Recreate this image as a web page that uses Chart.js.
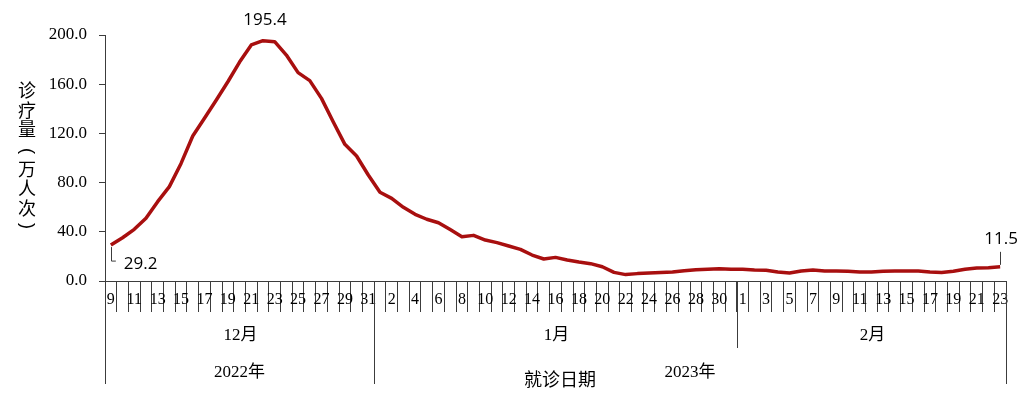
<!DOCTYPE html>
<html>
<head>
<meta charset="utf-8">
<script src="https://cdn.jsdelivr.net/npm/chart.js@4.4.1/dist/chart.umd.min.js"></script>
<style>
  html, body { margin: 0; padding: 0; background: #fff; }
  #chart { display: block; }
</style>
</head>
<body>
<canvas id="chart" width="1024" height="401"></canvas>
<script>
// 就诊日期 (日)
const decDays = [9, 10, 11, 12, 13, 14, 15, 16, 17, 18, 19, 20, 21, 22, 23, 24, 25, 26, 27, 28, 29, 30, 31];
const janDays = [1, 2, 3, 4, 5, 6, 7, 8, 9, 10, 11, 12, 13, 14, 15, 16, 17, 18, 19, 20, 21, 22, 23, 24, 25, 26, 27, 28, 29, 30, 31];
const febDays = [1, 2, 3, 4, 5, 6, 7, 8, 9, 10, 11, 12, 13, 14, 15, 16, 17, 18, 19, 20, 21, 22, 23];

// 诊疗量（万人次）
const decValues = [29.2, 35.2, 42.0, 51.0, 64.5, 76.7, 95.6, 117.9, 132.3, 147.0, 162.0, 178.0, 191.9, 195.4, 194.6, 183.7, 169.4, 162.9, 148.5, 129.5, 111.1, 101.6, 86.2];
const janValues = [72.1, 67.2, 59.9, 54.2, 50.2, 47.4, 41.8, 36.0, 37.1, 33.3, 31.2, 28.5, 25.7, 21.1, 17.9, 19.2, 17.1, 15.4, 14.1, 11.6, 7.0, 5.2, 6.0, 6.5, 7.0, 7.3, 8.4, 9.2, 9.5, 10.0, 9.5];
const febValues = [9.5, 8.9, 8.7, 7.3, 6.5, 8.1, 8.9, 8.1, 8.1, 7.9, 7.3, 7.3, 7.9, 8.1, 8.1, 8.1, 7.3, 7.0, 7.9, 9.5, 10.6, 10.8, 11.5];

const monthNames = ['12月', '1月', '2月'];
const yearNames = ['2022年', '2023年'];
const yTicks = [0, 40, 80, 120, 160, 200];
const yTitle = '诊疗量（万人次）';
const xTitle = '就诊日期';

const days = decDays.concat(janDays, febDays);
const values = decValues.concat(janValues, febValues);

// 每组的起止下标
const monthRanges = [
    [0, decDays.length],
    [decDays.length, decDays.length + janDays.length],
    [decDays.length + janDays.length, days.length]
];
const yearRanges = [
    [0, decDays.length],
    [decDays.length, days.length]
];

const serif = "'Liberation Serif', 'Times New Roman', 'Noto Sans CJK SC', serif";
const cjk = "'Noto Sans CJK SC', sans-serif";
const axisColor = '#3c3c3c';
const lineColor = '#a80f0f';

// 月份/年份分组、纵轴标题和数据标签
const extrasPlugin = {
    id: 'extras',
    afterDraw(chart) {
        const ctx = chart.ctx;
        const x = chart.scales.x;
        const base = chart.chartArea.bottom;
        const step = x.getPixelForValue(1) - x.getPixelForValue(0);
        const edge = i => x.getPixelForValue(i) - step / 2;

        ctx.save();
        ctx.strokeStyle = axisColor;
        ctx.lineWidth = 1;
        // 分组竖线
        const longLine = base + 103;
        const midLine = base + 67;
        [[0, longLine], [decDays.length, longLine], [decDays.length + janDays.length, midLine], [days.length, longLine]]
            .forEach(([i, bottom]) => {
                const px = Math.round(edge(i)) + 0.5;
                ctx.beginPath();
                ctx.moveTo(px, base);
                ctx.lineTo(px, bottom);
                ctx.stroke();
            });

        ctx.fillStyle = '#000';
        ctx.textAlign = 'center';
        ctx.textBaseline = 'middle';
        ctx.font = '17px ' + serif;
        monthRanges.forEach((r, k) => {
            ctx.fillText(monthNames[k], (edge(r[0]) + edge(r[1])) / 2 + 1, base + 55);
        });
        yearRanges.forEach((r, k) => {
            ctx.fillText(yearNames[k], (edge(r[0]) + edge(r[1])) / 2, base + 92);
        });
        ctx.font = '18px ' + cjk;
        ctx.fillText(xTitle, 560, base + 98);

        // 纵轴标题 (竖排, 括号旋转)
        ctx.font = '18px ' + cjk;
        Array.from(yTitle).forEach((ch, k) => {
            const cy = 90 + k * 19.7;
            if (ch === '（' || ch === '）') {
                ctx.save();
                ctx.translate(27, cy + (ch === '（' ? 2 : -2));
                ctx.rotate(Math.PI / 2);
                ctx.font = '18px "Liberation Sans", sans-serif';
                ctx.fillText(ch === '（' ? '(' : ')', 0, 0);
                ctx.restore();
            } else {
                ctx.fillText(ch, 27, cy);
            }
        });

        // 数据标签
        const pts = chart.getDatasetMeta(0).data;
        ctx.font = '17px "Open Sans", sans-serif';
        let peak = 0;
        values.forEach((v, i) => { if (v > values[peak]) peak = i; });
        ctx.fillText(values[peak].toFixed(1), pts[peak].x + 2, pts[peak].y - 21);

        const first = pts[0];
        ctx.beginPath();
        ctx.moveTo(Math.round(first.x) + 0.5, first.y + 2);
        ctx.lineTo(Math.round(first.x) + 0.5, first.y + 16);
        ctx.lineTo(first.x + 5, first.y + 16);
        ctx.stroke();
        ctx.textAlign = 'left';
        ctx.fillText(values[0].toFixed(1), first.x + 13, first.y + 19);

        const last = pts[pts.length - 1];
        ctx.beginPath();
        ctx.moveTo(Math.round(last.x) + 0.5, last.y - 2);
        ctx.lineTo(Math.round(last.x) + 0.5, last.y - 15);
        ctx.stroke();
        ctx.textAlign = 'center';
        ctx.fillText(values[values.length - 1].toFixed(1), last.x + 1, last.y - 28);
        ctx.restore();
    }
};

new Chart(document.getElementById('chart'), {
    type: 'line',
    data: {
        labels: days,
        datasets: [{
            label: '诊疗量',
            data: values,
            borderColor: lineColor,
            borderWidth: 3.5,
            pointRadius: 0,
            tension: 0,
            fill: false,
            borderJoinStyle: 'round'
        }]
    },
    options: {
        responsive: false,
        animation: false,
        layout: { padding: { top: 35, right: 18, left: 0, bottom: 0 } },
        plugins: {
            legend: { display: false },
            tooltip: { enabled: false }
        },
        scales: {
            x: {
                type: 'category',
                offset: true,
                grid: {
                    offset: true,
                    drawOnChartArea: false,
                    drawTicks: true,
                    tickLength: 31,
                    color: axisColor
                },
                border: { display: true, color: axisColor, width: 1 },
                ticks: {
                    autoSkip: false,
                    maxRotation: 0,
                    padding: -22,
                    color: '#000',
                    font: { family: serif, size: 16 },
                    callback: function (value, index) {
                        return index % 2 === 0 ? String(days[index]) : '';
                    }
                },
                afterFit: scale => { scale.height = 120; }
            },
            y: {
                min: 0,
                max: 200,
                afterBuildTicks: scale => { scale.ticks = yTicks.map(v => ({ value: v })); },
                grid: {
                    drawOnChartArea: false,
                    drawTicks: true,
                    tickLength: 6,
                    color: axisColor
                },
                border: { display: true, color: axisColor, width: 1 },
                ticks: {
                    padding: 12,
                    color: '#000',
                    font: { family: serif, size: 17 },
                    callback: value => Number(value).toFixed(1)
                },
                afterFit: scale => { scale.width = 105; }
            }
        }
    },
    plugins: [extrasPlugin]
});
</script>
</body>
</html>
